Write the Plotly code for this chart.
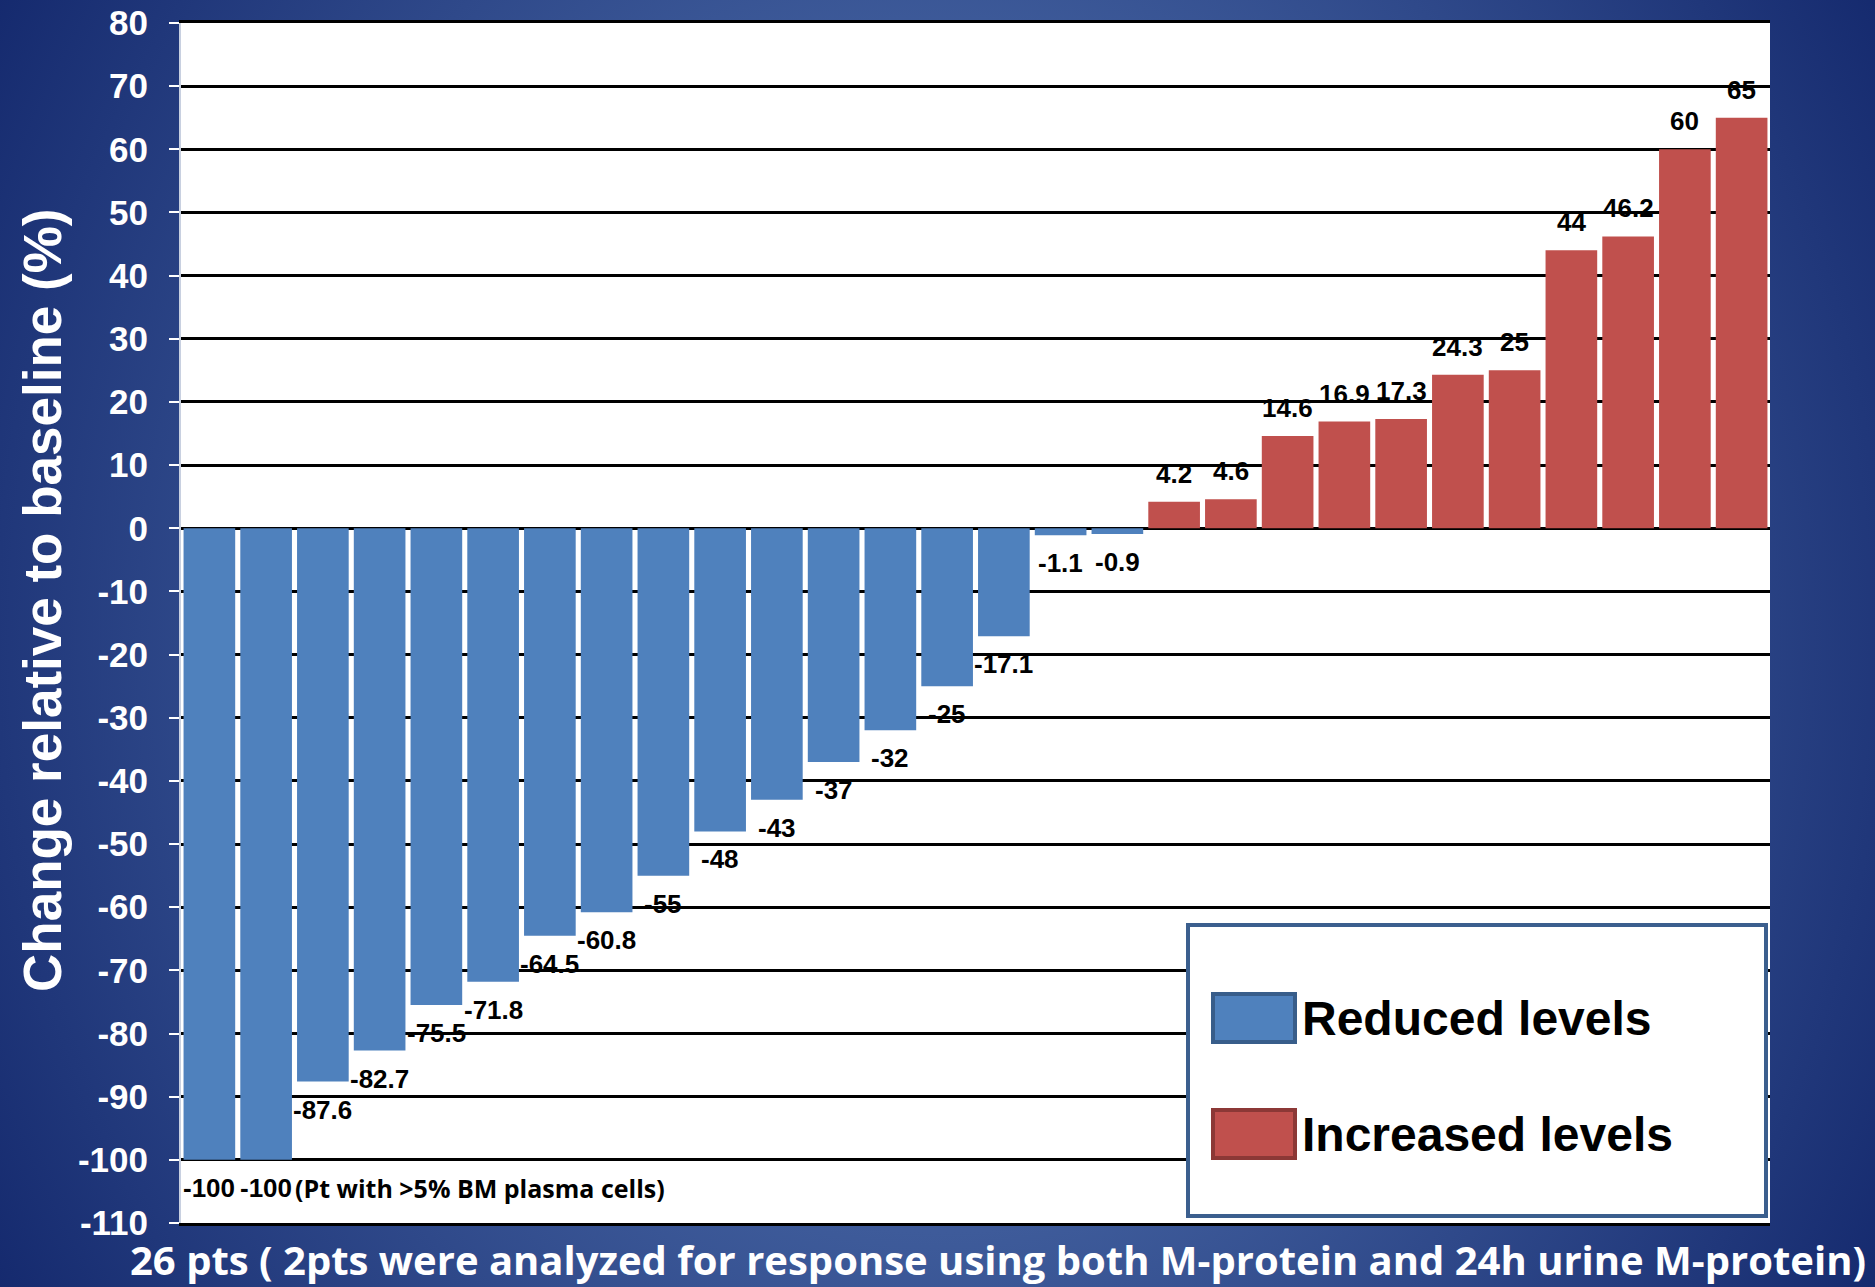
import base64
import plotly.graph_objects as go

# Per-patient change in M-protein relative to baseline (%), sorted ascending
patients = [f"Pt {i}" for i in range(1, 29)]
change_pct = [-100, -100, -87.6, -82.7, -75.5, -71.8, -64.5, -60.8, -55, -48,
              -43, -37, -32, -25, -17.1, -1.1, -0.9, 4.2, 4.6, 14.6, 16.9,
              17.3, 24.3, 25, 44, 46.2, 60, 65]

series_names = ["Reduced levels", "Increased levels"]
series_colors = ["#4f81bd", "#c0504d"]
swatch_edges = ["#385d8a", "#8c3836"]

y_ticks = list(range(-110, 81, 10))
y_tick_labels = [str(t) for t in y_ticks]

x_title = "26 pts ( 2pts were analyzed for response using both M-protein and 24h urine M-protein)"
y_title = "Change relative to baseline (%)"
note_text = "(Pt with >5% BM plasma cells)"

W, H = 1875, 1287
L, R, T, B = 181, 105, 23, 64
PW, PH = W - L - R, H - T - B


def px_x(px):
    return (px - L) / PW


def px_y(py):
    return 1 - (py - T) / PH


reduced = [(p, v) for p, v in zip(patients, change_pct) if v < 0]
increased = [(p, v) for p, v in zip(patients, change_pct) if v >= 0]

fig = go.Figure()
for name, color, pts in zip(series_names, series_colors, [reduced, increased]):
    fig.add_trace(go.Bar(
        x=[p for p, _ in pts],
        y=[v for _, v in pts],
        name=name,
        marker=dict(color=color, line=dict(width=0)),
        showlegend=False,
    ))

annotations = []
label_font = dict(family="Liberation Sans, Arial", size=26, color="black")
for p, v in zip(patients, change_pct):
    annotations.append(dict(
        x=p, y=v, xref="x", yref="y", text=f"<b>{v:g}</b>",
        showarrow=False, font=label_font, xanchor="center", yanchor="middle",
        yshift=28 if v >= 0 else -28,
    ))

# note next to the second -100 bar
annotations.append(dict(
    x=patients[1], y=change_pct[1], xref="x", yref="y", text=f"<b>{note_text}</b>",
    showarrow=False, xanchor="left", yanchor="middle", xshift=27, yshift=-28,
    font=dict(family="Open Sans, sans-serif", size=25, color="black"),
))

# axis titles
annotations.append(dict(
    x=px_x(998), y=px_y(1259), xref="paper", yref="paper", text=f"<b>{x_title}</b>",
    showarrow=False, xanchor="center", yanchor="middle",
    font=dict(family="Open Sans, sans-serif", size=40, color="white"),
))
annotations.append(dict(
    x=px_x(42), y=px_y(601), xref="paper", yref="paper", text=f"<b>{y_title}</b>",
    showarrow=False, xanchor="center", yanchor="middle", textangle=-90,
    font=dict(family="Liberation Sans, Arial", size=53, color="white"),
))

# white plotting surface beneath the gridlines
shapes = [dict(
    type="rect", xref="paper", yref="paper", x0=0, x1=1, y0=0, y1=1,
    fillcolor="white", line=dict(width=0), layer="below",
)]

# legend panel
shapes.append(dict(
    type="rect", xref="paper", yref="paper",
    x0=px_x(1188), x1=px_x(1766), y0=px_y(1216), y1=px_y(925),
    fillcolor="white", line=dict(color="#3b5f8e", width=4), layer="above",
))
legend_rows = [1018, 1134]
for name, color, edge, cy in zip(series_names, series_colors, swatch_edges, legend_rows):
    shapes.append(dict(
        type="rect", xref="paper", yref="paper",
        x0=px_x(1213), x1=px_x(1295), y0=px_y(cy + 24), y1=px_y(cy - 24),
        fillcolor=color, line=dict(color=edge, width=4), layer="above",
    ))
    annotations.append(dict(
        x=px_x(1300), y=px_y(cy), xref="paper", yref="paper", text=f"<b>{name}</b>",
        showarrow=False, xanchor="left", yanchor="middle",
        font=dict(family="Liberation Sans, Arial", size=48, color="black"),
    ))

# slide-style radial background
svg = (
    f"<svg xmlns='http://www.w3.org/2000/svg' width='{W}' height='{H}' "
    f"viewBox='0 0 {W} {H}' preserveAspectRatio='none'>"
    "<defs><radialGradient id='g' gradientUnits='userSpaceOnUse' cx='940' cy='640' r='1150' "
    "gradientTransform='translate(940 640) scale(1 1.13) translate(-940 -640)'>"
    "<stop offset='0' stop-color='#4765a4'/>"
    "<stop offset='0.45' stop-color='#3e5b9a'/>"
    "<stop offset='1' stop-color='#11256a'/>"
    "</radialGradient></defs>"
    f"<rect width='{W}' height='{H}' fill='url(#g)'/></svg>"
)
bg_src = "data:image/svg+xml;base64," + base64.b64encode(svg.encode()).decode()

fig.update_layout(
    width=W, height=H,
    margin=dict(l=L, r=R, t=T, b=B, pad=0, autoexpand=False),
    paper_bgcolor="#1c3274",
    plot_bgcolor="rgba(0,0,0,0)",
    barmode="relative",
    bargap=0.09,
    showlegend=False,
    annotations=annotations,
    shapes=shapes,
    images=[dict(
        source=bg_src, xref="paper", yref="paper",
        x=-(L + 4) / PW, y=1 + (T + 8) / PH, sizex=(W + 8) / PW, sizey=(H + 16) / PH,
        xanchor="left", yanchor="top", sizing="stretch", layer="below",
    )],
    xaxis=dict(
        showticklabels=False, ticks="", showgrid=False, automargin=False,
        showline=True, linecolor="black", linewidth=3, mirror=True,
        categoryorder="array", categoryarray=patients,
    ),
    yaxis=dict(
        range=[-110, 80], tickvals=y_ticks, ticktext=[f"<b>{t}</b>" for t in y_tick_labels],
        automargin=False,
        showgrid=True, gridcolor="black", gridwidth=2.5,
        zeroline=True, zerolinecolor="black", zerolinewidth=2.5,
        showline=True, linecolor="#c8d0e0", linewidth=2,
        ticks="outside", ticklen=10, tickwidth=2, tickcolor="white",
        ticklabelstandoff=14,
        tickfont=dict(family="Liberation Sans, Arial", size=35, color="white"),
    ),
)

fig.write_html("out.html")
